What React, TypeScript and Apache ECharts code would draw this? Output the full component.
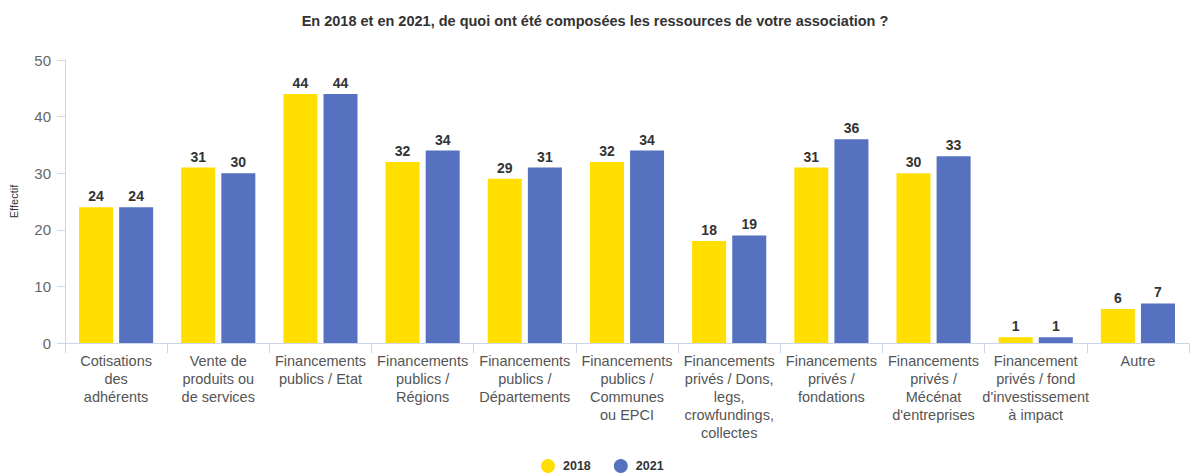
import React, { useEffect, useRef } from "react";
import * as echarts from "echarts";

const categories = [
  "Cotisations\ndes\nadhérents",
  "Vente de\nproduits ou\nde services",
  "Financements\npublics / Etat",
  "Financements\npublics /\nRégions",
  "Financements\npublics /\nDépartements",
  "Financements\npublics /\nCommunes\nou EPCI",
  "Financements\nprivés / Dons,\nlegs,\ncrowfundings,\ncollectes",
  "Financements\nprivés /\nfondations",
  "Financements\nprivés /\nMécénat\nd'entreprises",
  "Financement\nprivés / fond\nd'investissement\nà impact",
  "Autre",
];
const values2018 = [24, 31, 44, 32, 29, 32, 18, 31, 30, 1, 6];
const values2021 = [24, 30, 44, 34, 31, 34, 19, 36, 33, 1, 7];
const yTicks = [0, 10, 20, 30, 40, 50];

const FONT = "'Liberation Sans', Arial, sans-serif";

export default function App() {
  const ref = useRef<HTMLDivElement>(null);
  useEffect(() => {
    document.body.style.margin = "0";
    if (!ref.current) return;
    const chart = echarts.init(ref.current, null, { renderer: "svg" });
    const label = {
      show: true,
      position: "top",
      distance: 4,
      color: "#333",
      fontWeight: "bold",
      fontSize: 14,
      fontFamily: FONT,
    };
    chart.setOption({
      animation: false,
      textStyle: { fontFamily: FONT },
      title: {
        text: "En 2018 et en 2021, de quoi ont été composées les ressources de votre association ?",
        left: "center",
        top: 8,
        textStyle: { fontSize: 14.5, fontWeight: "bold", color: "#333", fontFamily: FONT },
      },
      legend: {
        bottom: 0,
        left: 541,
        padding: 0,
        icon: "circle",
        itemWidth: 14,
        itemHeight: 14,
        itemGap: 23,
        textStyle: { fontSize: 12.5, fontWeight: "bold", color: "#333", fontFamily: FONT, padding: [0, 0, 0, 3] },
        data: ["2018", "2021"],
      },
      grid: { left: 62, right: 1, top: 60, bottom: 130, containLabel: false },
      xAxis: {
        type: "category",
        data: categories,
        axisLine: { lineStyle: { color: "#ccd6eb" } },
        axisTick: { show: true, length: 10, lineStyle: { color: "#ccd6eb" } },
        axisLabel: {
          interval: 0,
          color: "#555",
          fontSize: 14.5,
          lineHeight: 18,
          margin: 9,
          fontFamily: FONT,
        },
      },
      yAxis: {
        type: "value",
        min: yTicks[0],
        max: yTicks[yTicks.length - 1],
        interval: 10,
        name: "Effectif",
        nameLocation: "middle",
        nameGap: 46,
        nameTextStyle: { color: "#333", fontSize: 11, fontFamily: FONT },
        axisLine: { show: true, lineStyle: { color: "#ccd6eb" } },
        axisTick: { show: true, length: 8, lineStyle: { color: "#ccd6eb" } },
        splitLine: { show: false },
        axisLabel: { color: "#666", fontSize: 15, margin: 14, fontFamily: FONT },
      },
      series: [
        {
          name: "2018",
          type: "bar",
          data: values2018,
          barWidth: 34,
          barGap: "18%",
          itemStyle: { color: "#FFDE00" },
          label,
        },
        {
          name: "2021",
          type: "bar",
          data: values2021,
          barWidth: 34,
          itemStyle: { color: "#5571C0" },
          label,
        },
      ],
    });
    return () => chart.dispose();
  }, []);
  return <div ref={ref} style={{ width: 1190, height: 473 }} />;
}
